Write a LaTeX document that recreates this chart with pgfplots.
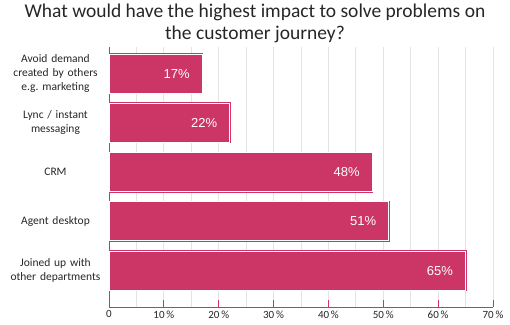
\documentclass[border=0pt]{standalone}
\usepackage{fontspec}
\setmainfont{Carlito}
\newfontfamily\arialf{Liberation Sans}
\usepackage{pgfplots}
\pgfplotsset{compat=1.18}
\definecolor{barc}{RGB}{204,54,102}
\definecolor{gridc}{RGB}{228,228,228}
\frenchspacing
\begin{document}
\begin{tikzpicture}
\path[use as bounding box] (0,0) rectangle (510bp,325bp);
\node[align=center, font=\fontsize{19.5bp}{22bp}\selectfont, text=black!85] at (255bp,302bp) {What would have the highest impact to solve problems on\\the customer journey?};
\begin{axis}[
  at={(109bp,18bp)}, anchor=south west,
  scale only axis, width=384bp, height=260bp,
  xbar, bar width=39bp,
  xmin=0, xmax=70, ymin=-0.54, ymax=4.74, y dir=reverse,
  axis x line*=bottom, axis y line*=left,
  axis line style={barc, line width=0.9bp},
  xtick={0,10,...,70},
  xticklabels={0,10\,\%,20\,\%,30\,\%,40\,\%,50\,\%,60\,\%,70\,\%},
  minor xtick={5,15,...,65},
  xmajorgrids, xminorgrids,
  major grid style={gridc, line width=0.8bp},
  minor grid style={gridc, line width=0.8bp},
  tick align=inside,
  major tick length=7bp, minor tick length=0pt,
  x tick style={barc, line width=0.9bp},
  y tick style={draw=none},
  xticklabel style={font=\fontsize{11bp}{13bp}\selectfont, text=black!85},
  ytick={0,1,2,3,4},
  yticklabels={{Avoid demand\\created by others\\e.g.\ marketing},{Lync / instant\\messaging},{CRM},{Agent desktop},{Joined up with\\other departments}},
  yticklabel style={align=center, text width=100bp, font=\fontsize{11.5bp}{14.3bp}\selectfont, text=black!85},
  nodes near coords={\pgfmathprintnumber[assume math mode=true]{\pgfplotspointmeta}\%},
  nodes near coords style={anchor=east, xshift=-9bp, font=\arialf\fontsize{13bp}{13bp}\selectfont, text=white},
]
\addplot[fill=barc, draw=barc, line width=0.6bp, double=white, double distance=0.8bp] coordinates {
  (17,0) (22,1) (48,2) (51,3) (65,4)
};
\end{axis}
\end{tikzpicture}
\end{document}
